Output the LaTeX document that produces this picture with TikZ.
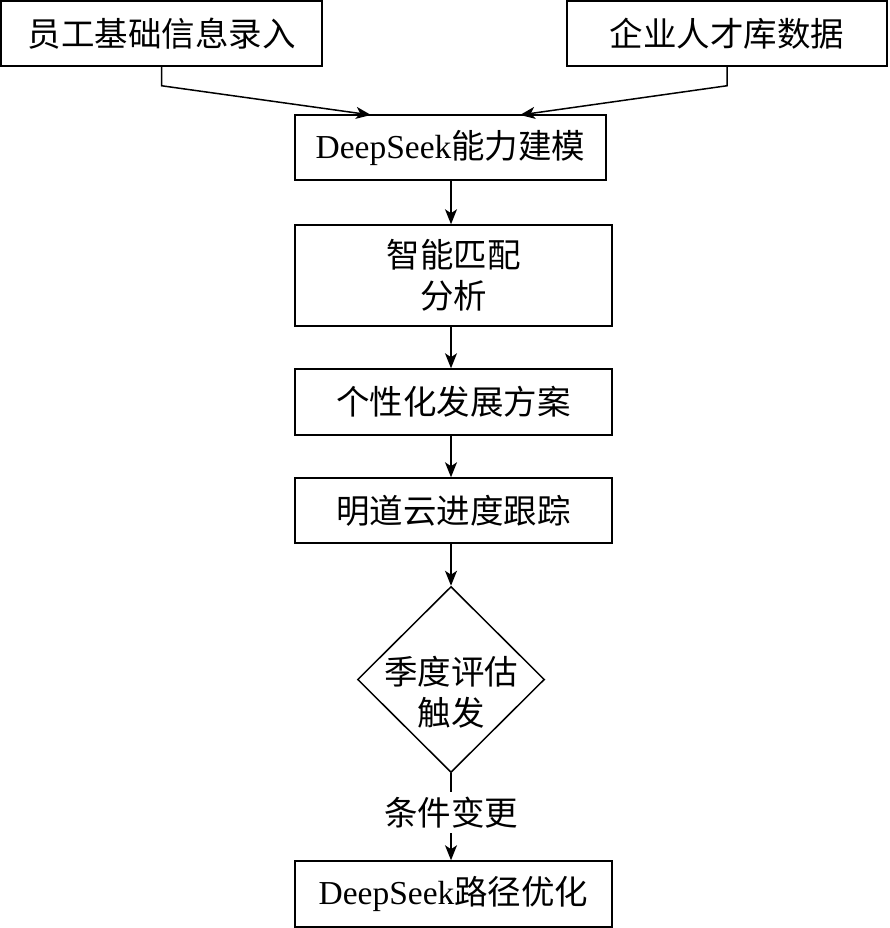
\documentclass[tikz,border=0pt]{standalone}
\usepackage{fontspec}
\setmainfont{Liberation Serif}
\newfontfamily\cjk{Noto Sans CJK SC}
\usetikzlibrary{shapes.geometric,arrows.meta}
\begin{document}
\begin{tikzpicture}[x=1pt,y=-1pt,
  txt/.style={font=\fontsize{33.5}{41}\selectfont},
  box/.style={draw, line width=1.5pt, rectangle, inner sep=0pt, align=center, txt},
  dec/.style={draw, line width=1.5pt, diamond, inner sep=-7.5pt, align=center, txt,
              minimum width=187pt, minimum height=186pt},
  arr/.style={line width=1.5pt, -{Stealth[length=15pt,width=12pt,inset=4pt]}},
  lab/.style={fill=white, inner xsep=2pt, inner ysep=5pt, txt}]
\useasboundingbox (0,0) rectangle (889,928);
\node[box, minimum width=321pt, minimum height=65pt] (b1) at (161.5,33.5) {\cjk 员工基础信息录入};
\node[box, minimum width=320pt, minimum height=65pt] (b2) at (727,33.5) {\cjk 企业人才库数据};
\node[box, minimum width=311pt, minimum height=65pt] (b3) at (450.5,147.5) {DeepSeek{\cjk 能力建模}};
\node[box, minimum width=317pt, minimum height=101pt] (b4) at (453.5,275.5) {\cjk 智能匹配\\\cjk 分析};
\node[box, minimum width=317pt, minimum height=66pt] (b5) at (453.5,402) {\cjk 个性化发展方案};
\node[box, minimum width=317pt, minimum height=65pt] (b6) at (453.5,510.5) {\cjk 明道云进度跟踪};
\node[dec] (d) at (451,679.5) {\raisebox{-17pt}[\height][\depth]{\begin{tabular}{@{}c@{}}\cjk 季度评估\\\cjk 触发\end{tabular}}};
\node[box, minimum width=317pt, minimum height=66pt] (b7) at (453.5,894) {DeepSeek{\cjk 路径优化}};
\coordinate (t1) at (371,115);
\coordinate (t2) at (520,115);
\draw[arr] (b1.south) -- ++(0,19) -- (t1);
\draw[arr] (b2.south) -- ++(0,19) -- (t2);
\draw[arr] (b3.south -| d) -- (b4.north -| d);
\draw[arr] (b4.south -| d) -- (b5.north -| d);
\draw[arr] (b5.south -| d) -- (b6.north -| d);
\draw[arr] (b6.south -| d) -- (d.north);
\draw[arr] (d.south) -- node[lab, pos=0.45] {\cjk 条件变更} (b7.north -| d);
\end{tikzpicture}
\end{document}
